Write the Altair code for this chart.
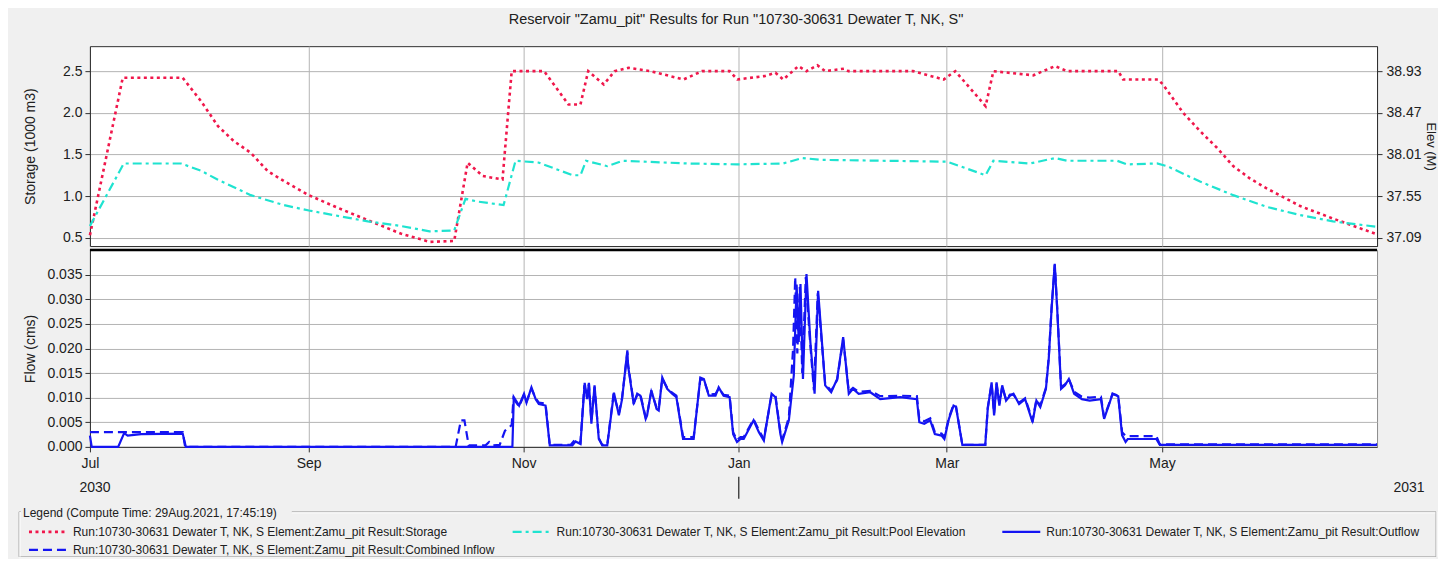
import altair as alt
import pandas as pd

START = "2030-07-01"

# ---- data (day = days since 2030-07-01) ----
storage_day = [0, 9.3, 26.3, 31.5, 36.3, 40.8, 45.6, 50.4, 55.0, 62.1, 69.1, 78.8, 88.1, 96.3,
               103.3, 107.1, 111.4, 117.0, 119.6, 128.8, 135.7, 139.1, 141.3, 145.7, 148.8, 152.7,
               159.0, 168.3, 173.6, 181.4, 183.6, 191.2, 194.4, 196.6, 200.9, 203.2, 206.3, 208.5,
               213.9, 215.1, 233.4, 242.1, 245.4, 254.0, 256.2, 267.5, 273.7, 277.1, 291.6, 293.0,
               302.9, 304.3, 310.0, 314.8, 319.6, 324.2, 329.0, 333.8, 343.2, 352.5, 365.0]
storage_val = [0.53, 2.42, 2.42, 2.14, 1.84, 1.66, 1.52, 1.30, 1.18, 1.01, 0.88, 0.71, 0.55, 0.45,
               0.46, 1.40, 1.24, 1.20, 2.50, 2.50, 2.10, 2.10, 2.50, 2.34, 2.50, 2.54,
               2.50, 2.40, 2.50, 2.50, 2.40, 2.44, 2.48, 2.40, 2.56, 2.50, 2.57, 2.50,
               2.53, 2.50, 2.50, 2.40, 2.50, 2.08, 2.50, 2.45, 2.56, 2.50, 2.50, 2.40,
               2.40, 2.34, 2.00, 1.78, 1.58, 1.36, 1.21, 1.09, 0.88, 0.73, 0.54]

pool_day = [0, 9.6, 25.8, 31.5, 36.3, 45.6, 55.0, 62.1, 69.1, 78.8, 88.1, 96.3, 103.3, 106.5,
            109.8, 117.3, 120.7, 127.2, 136.9, 139.1, 140.7, 146.7, 151.0, 169.5, 183.6, 196.6,
            202.0, 207.4, 243.1, 254.0, 256.2, 266.6, 273.7, 277.1, 291.3, 294.1, 302.6, 305.5,
            314.8, 324.2, 333.8, 343.2, 352.5, 365.0]
pool_elev = [37.22, 37.91, 37.91, 37.83, 37.73, 37.56, 37.45, 37.39, 37.34, 37.27, 37.22, 37.16,
             37.17, 37.52, 37.49, 37.45, 37.94, 37.92, 37.78, 37.78, 37.94, 37.88, 37.94, 37.91,
             37.90, 37.91, 37.97, 37.95, 37.93, 37.78, 37.94, 37.91, 37.97, 37.94, 37.94, 37.90,
             37.91, 37.88, 37.71, 37.56, 37.43, 37.34, 37.27, 37.21]

outflow_day = [0, 0.5, 8.0, 9.7, 10.7, 14.5, 26.3, 27.2, 119.8, 120.2, 121.7, 123.1, 123.8, 125.2,
               126.4, 127.3, 129.2, 130.4, 136.8, 137.7, 139.1, 140.3, 141.0, 141.5, 142.2, 143.1,
               144.3, 145.3, 146.7, 148.6, 150.0, 150.9, 152.4, 152.6, 154.2, 155.2, 156.1, 157.6,
               158.0, 159.2, 160.7, 161.3, 162.3, 163.7, 165.1, 166.3, 168.2, 171.2, 173.1, 174.1,
               175.5, 177.4, 178.3, 179.7, 181.4, 182.4, 183.5, 184.5, 185.4, 188.2, 189.7, 191.1,
               193.3, 194.4, 195.8, 196.3, 198.2, 199.6, 200.4, 201.0, 201.5, 202.2, 203.2, 204.3,
               205.5, 206.5, 208.5, 210.2, 211.9, 213.6, 215.2, 216.4, 218.0, 221.3, 224.1, 229.8,
               234.5, 235.2, 236.6, 238.3, 239.6, 241.5, 242.3, 243.6, 244.9, 245.6, 247.4, 253.9,
               254.6, 255.7, 256.4, 257.1, 257.9, 258.7, 259.8, 260.9, 261.9, 263.5, 265.2, 267.3,
               268.4, 269.5, 271.1, 271.9, 272.7, 273.6, 274.3, 275.4, 276.5, 277.6, 279.1, 281.3,
               283.5, 286.7, 287.6, 288.9, 290.0, 291.6, 292.7, 293.7, 294.3, 302.4, 303.4, 365.0]
outflow_val = [0.0023, 0.0, 0.0, 0.0028, 0.0023, 0.0026, 0.0027, 0.0, 0.0, 0.0101, 0.0084, 0.0108,
               0.0090, 0.0121, 0.0097, 0.0087, 0.0084, 0.0003, 0.0003, 0.0011, 0.0006, 0.0130,
               0.0097, 0.0130, 0.0047, 0.0125, 0.0016, 0.0003, 0.0003, 0.0110, 0.0064, 0.0097,
               0.0196, 0.0165, 0.0087, 0.0108, 0.0104, 0.0057, 0.0064, 0.0115, 0.0077, 0.0074,
               0.0141, 0.0118, 0.0108, 0.0101, 0.0016, 0.0016, 0.0141, 0.0138, 0.0104, 0.0104,
               0.0121, 0.0104, 0.0101, 0.0026, 0.0010, 0.0016, 0.0016, 0.0054, 0.0030, 0.0013,
               0.0108, 0.0101, 0.0026, 0.0010, 0.0054, 0.0145, 0.0330, 0.0213, 0.0331, 0.0138,
               0.0351, 0.0213, 0.0108, 0.0317, 0.0125, 0.0111, 0.0138, 0.0223, 0.0108, 0.0118,
               0.0108, 0.0111, 0.0097, 0.0101, 0.0097, 0.0050, 0.0047, 0.0054, 0.0026, 0.0023,
               0.0016, 0.0057, 0.0084, 0.0081, 0.0004, 0.0004, 0.0077, 0.0131, 0.0064, 0.0131,
               0.0084, 0.0125, 0.0094, 0.0104, 0.0108, 0.0087, 0.0097, 0.0050, 0.0094, 0.0081,
               0.0118, 0.0179, 0.0280, 0.0372, 0.0280, 0.0118, 0.0125, 0.0138, 0.0108, 0.0097,
               0.0094, 0.0097, 0.0057, 0.0084, 0.0108, 0.0103, 0.0024, 0.0010, 0.0016, 0.0016,
               0.0004, 0.0004]

inflow_day = [0, 26.3, 27.0, 103.7, 105.2, 106.2, 107.4, 112.2, 113.2, 114.3, 116.2, 117.7, 119.0,
              119.6, 120.1, 121.7, 123.1, 123.8, 125.2, 126.4, 127.3, 129.2, 130.4, 136.3, 137.5,
              139.1, 140.2, 141.0, 141.5, 142.2, 143.1, 144.3, 145.3, 146.7, 148.5, 150.0, 150.9,
              152.4, 152.6, 154.2, 155.2, 156.1, 157.6, 158.0, 159.2, 160.7, 161.3, 162.3, 163.7,
              165.1, 166.3, 168.2, 171.2, 173.1, 174.1, 175.5, 177.4, 178.3, 179.7, 181.4, 182.4,
              183.5, 184.5, 185.4, 188.2, 189.7, 191.1, 193.3, 194.4, 195.8, 196.3, 198.2, 199.4,
              200.0, 200.6, 201.3, 202.0, 203.0, 204.1, 205.3, 206.4, 208.5, 210.2, 211.9, 213.6,
              215.2, 216.4, 218.0, 221.3, 224.1, 229.8, 234.5, 235.2, 236.6, 238.3, 239.6, 241.5,
              242.3, 243.6, 244.9, 245.6, 247.4, 253.9, 254.6, 255.7, 256.4, 257.1, 257.9, 258.7,
              259.8, 260.9, 261.9, 263.5, 265.2, 267.3, 268.4, 269.5, 271.1, 271.9, 272.7, 273.6,
              274.3, 275.4, 276.5, 277.6, 279.1, 281.3, 283.5, 286.7, 287.6, 288.9, 290.0, 291.6,
              292.7, 293.7, 302.4, 303.4, 365.0]
inflow_val = [0.0030, 0.0030, 0.0, 0.0, 0.0054, 0.0054, 0.0003, 0.0003, 0.0010, 0.0003, 0.0004,
              0.0033, 0.0040, 0.0045, 0.0098, 0.0082, 0.0106, 0.0092, 0.0118, 0.0099, 0.0090,
              0.0088, 0.0004, 0.0004, 0.0014, 0.0008, 0.0125, 0.0100, 0.0128, 0.0052, 0.0122,
              0.0018, 0.0004, 0.0004, 0.0108, 0.0068, 0.0100, 0.0192, 0.0168, 0.0090, 0.0105,
              0.0106, 0.0060, 0.0066, 0.0112, 0.0080, 0.0078, 0.0138, 0.0120, 0.0110, 0.0104,
              0.0020, 0.0020, 0.0138, 0.0136, 0.0106, 0.0108, 0.0118, 0.0106, 0.0104, 0.0030,
              0.0014, 0.0020, 0.0020, 0.0056, 0.0034, 0.0016, 0.0105, 0.0104, 0.0030, 0.0014,
              0.0060, 0.0200, 0.0345, 0.0190, 0.0325, 0.0150, 0.0345, 0.0225, 0.0115, 0.0312,
              0.0128, 0.0114, 0.0136, 0.0218, 0.0112, 0.0120, 0.0112, 0.0114, 0.0103, 0.0104,
              0.0103, 0.0056, 0.0052, 0.0058, 0.0030, 0.0027, 0.0020, 0.0060, 0.0086, 0.0082,
              0.0004, 0.0004, 0.0080, 0.0128, 0.0068, 0.0128, 0.0088, 0.0122, 0.0096, 0.0106,
              0.0106, 0.0090, 0.0099, 0.0054, 0.0096, 0.0084, 0.0120, 0.0182, 0.0282, 0.0370,
              0.0282, 0.0122, 0.0127, 0.0138, 0.0112, 0.0102, 0.0100, 0.0102, 0.0060, 0.0086,
              0.0108, 0.0104, 0.0030, 0.0022, 0.0022, 0.0005, 0.0005]

storage_ticks = [0.5, 1.0, 1.5, 2.0, 2.5]
elev_ticks = [37.09, 37.55, 38.01, 38.47, 38.93]
flow_ticks = [0.0, 0.005, 0.010, 0.015, 0.020, 0.025, 0.030, 0.035]
month_ticks = [(2030, 7), (2030, 9), (2030, 11), (2031, 1), (2031, 3), (2031, 5)]
year_labels = ["2030", "2031"]
year_dates = ["2030-07-01", "2031-07-01"]
year_break = ["2031-01-01"]

title_text = 'Reservoir "Zamu_pit" Results for Run "10730-30631 Dewater T, NK, S"'
legend_title = "Legend (Compute Time: 29Aug.2021, 17:45:19)"
run_prefix = "Run:10730-30631 Dewater T, NK, S Element:Zamu_pit Result:"
legend_names = ["Storage", "Pool Elevation", "Outflow", "Combined Inflow"]

# ---- styles ----
RED = "#f0174b"
CYAN = "#1fe3d0"
BLUE = "#1414f2"
GRID = "#b4b4b4"
DARK = "#303030"
FONT = "Liberation Sans"
LFS = 12
W, H1, H2 = 1288, 200, 197


def frame(days, col, vals):
    dates = pd.Timestamp(START) + pd.to_timedelta(days, unit="D")
    return pd.DataFrame({"date": dates, col: vals})


storage_df = frame(storage_day, "storage", storage_val)
pool_df = frame(pool_day, "elev", pool_elev)
outflow_df = frame(outflow_day, "flow", outflow_val)
inflow_df = frame(inflow_day, "flow", inflow_val)
one = pd.DataFrame({"k": [0]})

x_dom = [alt.DateTime(year=2030, month=7, date=1), alt.DateTime(year=2031, month=7, date=1)]
tick_vals = [alt.DateTime(year=y, month=m, date=1) for y, m in month_ticks]

top_x = alt.X("date:T", scale=alt.Scale(domain=x_dom),
              axis=alt.Axis(values=tick_vals, labels=False, ticks=False, domain=False,
                            grid=True, gridColor=GRID, title=None, minExtent=0, maxExtent=0))

storage_line = alt.Chart(storage_df).mark_line(
    color=RED, strokeDash=[3, 3.5], strokeWidth=2.6
).encode(
    x=top_x,
    y=alt.Y("storage:Q", scale=alt.Scale(domain=[0.40, 2.80], nice=False, zero=False),
            axis=alt.Axis(orient="left", values=storage_ticks, format=".1f",
                          title="Storage (1000 m3)", grid=True, gridColor=GRID,
                          minExtent=48, maxExtent=48, titlePadding=4)),
)
pool_line = alt.Chart(pool_df).mark_line(
    color=CYAN, strokeDash=[9, 4, 3, 4], strokeWidth=2.2
).encode(
    x=top_x,
    y=alt.Y("elev:Q", scale=alt.Scale(domain=[36.998, 39.206], nice=False, zero=False),
            axis=alt.Axis(orient="right", values=elev_ticks, format=".2f", title="Elev (M)",
                          titleFontSize=13, grid=False, minExtent=46, maxExtent=46,
                          titlePadding=0, labelPadding=4)),
)
top = alt.layer(storage_line, pool_line).resolve_scale(y="independent").properties(
    width=W, height=H1, view=alt.ViewBackground(stroke=DARK, fill="white")
)

bot_x = alt.X("date:T", scale=alt.Scale(domain=x_dom),
              axis=alt.Axis(values=tick_vals, format="%b", labelFlush=False, labelOverlap=False,
                            grid=True, gridColor=GRID, title=None, tickSize=5, labelPadding=5,
                            domainColor=DARK, tickColor=DARK))
flow_y = alt.Y("flow:Q", scale=alt.Scale(domain=[0, 0.04], nice=False),
               axis=alt.Axis(values=flow_ticks, format=".3f", title="Flow (cms)", grid=True,
                             gridColor=GRID, minExtent=48, maxExtent=48, titlePadding=4))

inflow_line = alt.Chart(inflow_df).mark_line(
    color=BLUE, strokeDash=[9, 5], strokeWidth=2.2
).encode(x=bot_x, y=flow_y)
outflow_line = alt.Chart(outflow_df).mark_line(color=BLUE, strokeWidth=2.2).encode(x=bot_x, y=flow_y)

sep_rule = alt.Chart(one).mark_rule(color="black", strokeWidth=2.5).encode(
    x=alt.value(0), x2=alt.value(W), y=alt.value(0)
)

years_df = pd.DataFrame({"date": pd.to_datetime(year_dates), "label": year_labels})
year0 = alt.Chart(years_df.iloc[[0]]).mark_text(
    font=FONT, fontSize=14, color="#202020", dx=5, baseline="middle"
).encode(x=bot_x, y=alt.value(238), text="label:N")
year1 = alt.Chart(years_df.iloc[[1]]).mark_text(
    font=FONT, fontSize=14, color="#202020", dx=32, baseline="middle"
).encode(x=bot_x, y=alt.value(238), text="label:N")
break_df = pd.DataFrame({"date": pd.to_datetime(year_break)})
year_rule = alt.Chart(break_df).mark_rule(color="#202020", strokeWidth=1.2).encode(
    x=bot_x, y=alt.value(227), y2=alt.value(249)
)

# ---- legend box (drawn below the lower panel) ----
LX0, LX1, LYT, LYB = -71, 1347, 262, 307
FR = "#a8a8a8"
legend_parts = []
for x0, x1, y0 in [(LX0, LX0 + 2, LYT), (202, LX1, LYT), (LX0, LX1, LYB)]:
    legend_parts.append(alt.Chart(one).mark_rule(color=FR, strokeWidth=1).encode(
        x=alt.value(x0), x2=alt.value(x1), y=alt.value(y0)))
    legend_parts.append(alt.Chart(one).mark_rule(color="white", strokeWidth=1).encode(
        x=alt.value(x0), x2=alt.value(x1), y=alt.value(y0 + 1)))
for xx in [LX0, LX1]:
    legend_parts.append(alt.Chart(one).mark_rule(color=FR, strokeWidth=1).encode(
        x=alt.value(xx), y=alt.value(LYT), y2=alt.value(LYB)))
    legend_parts.append(alt.Chart(one).mark_rule(color="white", strokeWidth=1).encode(
        x=alt.value(xx + 1), y=alt.value(LYT), y2=alt.value(LYB)))

legend_parts.append(alt.Chart(one).mark_text(
    font=FONT, fontSize=LFS, color="#202020", align="left", baseline="middle"
).encode(x=alt.value(-67), y=alt.value(LYT + 1), text=alt.value(legend_title)))

items = [
    (legend_names[0], RED, [3, 3.5], 2.6, -61, 282),
    (legend_names[1], CYAN, [9, 4, 3, 4], 2.2, 423, 282),
    (legend_names[2], BLUE, [], 2.2, 913, 282),
    (legend_names[3], BLUE, [9, 5], 2.2, -61, 300),
]
for name, col, dash, sw, x0, yy in items:
    mk = dict(color=col, strokeWidth=sw)
    if dash:
        mk["strokeDash"] = dash
    legend_parts.append(alt.Chart(one).mark_rule(**mk).encode(
        x=alt.value(x0), x2=alt.value(x0 + 38), y=alt.value(yy)))
    legend_parts.append(alt.Chart(one).mark_text(
        font=FONT, fontSize=LFS, color="#202020", align="left", baseline="middle"
    ).encode(x=alt.value(x0 + 44), y=alt.value(yy), text=alt.value(run_prefix + name)))

bottom = alt.layer(
    inflow_line, outflow_line, sep_rule, year0, year1, year_rule, *legend_parts
).properties(width=W, height=H2, view=alt.ViewBackground(stroke="#8c8c8c", fill="white"))

chart = alt.vconcat(top, bottom, spacing=0).properties(
    title=alt.TitleParams(text=title_text, font=FONT, fontSize=14.5, fontWeight="normal",
                          color="#202020", anchor="middle", offset=18, dx=8),
    background="#f0f0f0",
    padding={"left": 10, "top": 4, "right": 0, "bottom": 0},
).configure_axis(
    labelFont=FONT, titleFont=FONT, labelFontSize=14, titleFontSize=14,
    labelColor="#202020", titleColor="#202020", titleFontWeight="normal",
    tickColor=DARK, domainColor=DARK, tickSize=5, labelPadding=3, gridWidth=1,
)

chart.save("out.html", embed_options={"renderer": "svg", "actions": False})
